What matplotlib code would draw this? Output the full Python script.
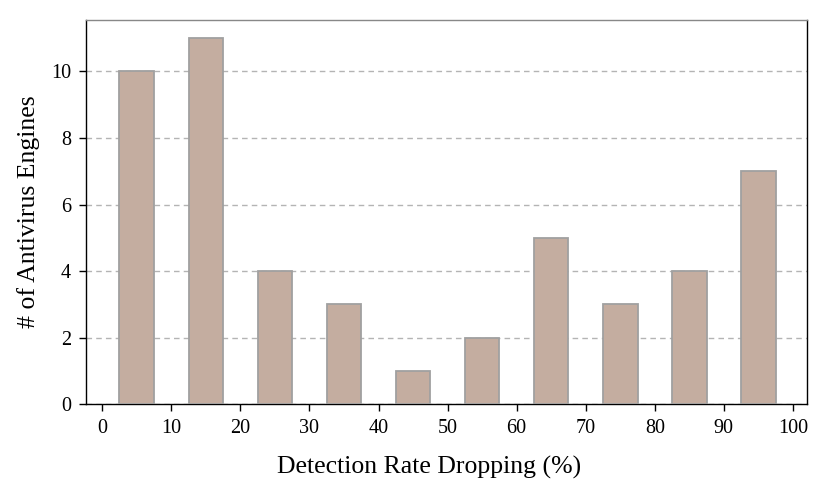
import matplotlib
matplotlib.use("Agg")
import matplotlib.pyplot as plt

# detection-rate-drop buckets (bin centres, %) and engine counts
bin_centres = [5, 15, 25, 35, 45, 55, 65, 75, 85, 95]
engine_counts = [10, 11, 4, 3, 1, 2, 5, 3, 4, 7]
x_ticks = list(range(0, 101, 10))
y_ticks = [0, 2, 4, 6, 8, 10]

plt.rcParams["font.family"] = ["Liberation Serif", "DejaVu Serif"]

fig, ax = plt.subplots(figsize=(8.3, 4.84), dpi=100)
fig.subplots_adjust(left=0.104, right=0.972, top=0.959, bottom=0.165)

ax.bar(bin_centres, engine_counts, width=5, color="#c4ada0",
       edgecolor="#a0a0a0", linewidth=1.3, zorder=3)
ax.yaxis.grid(True, linestyle=(0, (4, 3)), color="#b4b4b4", lw=1.0, zorder=0)

ax.set_xlim(-2.3, 102)
ax.set_ylim(0, 11.55)
ax.set_xticks(x_ticks)
ax.set_yticks(y_ticks)
ax.tick_params(labelsize=14.5, length=5, width=1, pad=6)
for s in ax.spines.values():
    s.set_linewidth(1.0)
ax.spines["top"].set_color("#888888")

ax.set_xlabel("Detection Rate Dropping (%)", fontsize=18.5)
ax.set_ylabel("# of Antivirus Engines", fontsize=18.5, labelpad=8)
# label sits a little left of the axes centre in the original
ax.xaxis.set_label_coords(0.476, -0.135)

fig.savefig("out.png", dpi=100)
